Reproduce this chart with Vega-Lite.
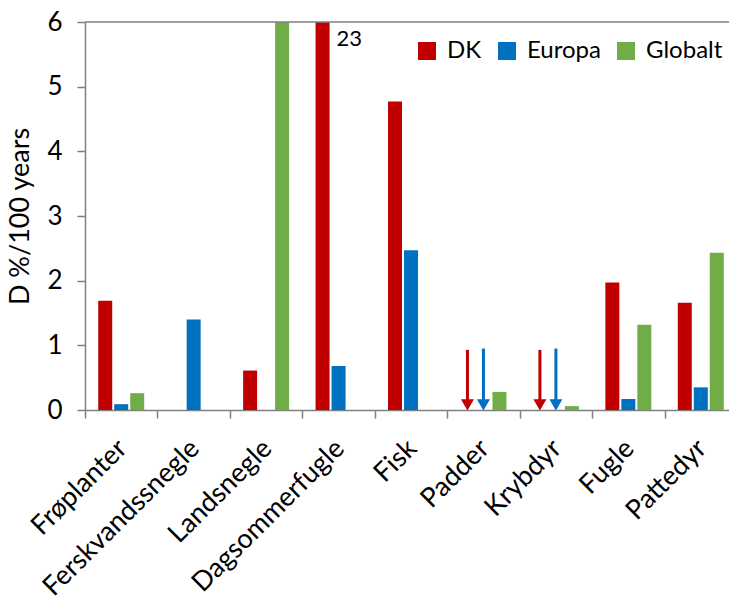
{
  "$schema": "https://vega.github.io/schema/vega-lite/v6.json",
  "width": 652,
  "height": 388,
  "autosize": {"type": "none"},
  "padding": {"left": 85, "top": 22, "right": 0, "bottom": 187},
  "background": "white",
  "config": {
    "view": {"stroke": null},
    "font": "Lato",
    "axis": {
      "domainColor": "#808080", "domainWidth": 1.5,
      "tickColor": "#808080", "tickWidth": 1.5, "tickSize": 8,
      "labelFont": "Lato", "labelColor": "#000000", "labelFontSize": 26,
      "titleFont": "Lato", "titleFontWeight": "normal", "titleColor": "#000000", "titleFontSize": 27,
      "grid": false
    },
    "axisY": {"tickCount": 6, "labelPadding": 15, "titlePadding": 12},
    "axisX": {"labelAngle": -45, "labelAlign": "right", "labelBaseline": "middle", "labelFontSize": 27, "labelPadding": 26, "labelOffset": 1, "labelLimit": 400, "tickBand": "extent"},
    "legend": {
      "orient": "none", "legendX": 330, "legendY": 17, "direction": "horizontal",
      "symbolType": "square", "symbolSize": 324, "symbolStrokeWidth": 0,
      "labelFont": "Lato", "labelFontSize": 24, "labelColor": "#000000",
      "labelOffset": 8, "columnPadding": 13, "padding": 0
    }
  },
  "datasets": {
    "bars": [
      {"category": "Frøplanter", "series": "DK", "value": 1.69},
      {"category": "Frøplanter", "series": "Europa", "value": 0.09},
      {"category": "Frøplanter", "series": "Globalt", "value": 0.26},
      {"category": "Ferskvandssnegle", "series": "Europa", "value": 1.40},
      {"category": "Landsnegle", "series": "DK", "value": 0.61},
      {"category": "Landsnegle", "series": "Globalt", "value": 6},
      {"category": "Dagsommerfugle", "series": "DK", "value": 23},
      {"category": "Dagsommerfugle", "series": "Europa", "value": 0.68},
      {"category": "Fisk", "series": "DK", "value": 4.77},
      {"category": "Fisk", "series": "Europa", "value": 2.47},
      {"category": "Padder", "series": "Globalt", "value": 0.28},
      {"category": "Krybdyr", "series": "Globalt", "value": 0.06},
      {"category": "Fugle", "series": "DK", "value": 1.97},
      {"category": "Fugle", "series": "Europa", "value": 0.17},
      {"category": "Fugle", "series": "Globalt", "value": 1.32},
      {"category": "Pattedyr", "series": "DK", "value": 1.66},
      {"category": "Pattedyr", "series": "Europa", "value": 0.35},
      {"category": "Pattedyr", "series": "Globalt", "value": 2.43}
    ],
    "arrows": [
      {"category": "Padder", "series": "DK", "top": 0.93, "base": 0.12, "head": 0.08},
      {"category": "Padder", "series": "Europa", "top": 0.95, "base": 0.12, "head": 0.08},
      {"category": "Krybdyr", "series": "DK", "top": 0.93, "base": 0.12, "head": 0.08},
      {"category": "Krybdyr", "series": "Europa", "top": 0.95, "base": 0.12, "head": 0.08}
    ],
    "notes": [
      {"category": "Dagsommerfugle", "series": "DK", "value": 6, "label": "23"}
    ],
    "frame": [{"value": 6}]
  },
  "layer": [
    {
      "data": {"name": "bars"},
      "mark": {"type": "bar", "clip": true},
      "encoding": {
        "x": {"field": "category", "type": "nominal", "title": null,
              "sort": ["Frøplanter", "Ferskvandssnegle", "Landsnegle", "Dagsommerfugle", "Fisk", "Padder", "Krybdyr", "Fugle", "Pattedyr"],
              "scale": {"domain": ["Frøplanter", "Ferskvandssnegle", "Landsnegle", "Dagsommerfugle", "Fisk", "Padder", "Krybdyr", "Fugle", "Pattedyr"], "paddingInner": 0, "paddingOuter": 0}},
        "xOffset": {"field": "series", "type": "nominal",
                    "scale": {"domain": ["DK", "Europa", "Globalt"], "paddingInner": 0.125, "paddingOuter": 0.828}},
        "y": {"field": "value", "type": "quantitative", "title": "D %/100 years",
              "scale": {"domain": [0, 6], "nice": false}},
        "color": {"field": "series", "type": "nominal", "title": null,
                  "scale": {"domain": ["DK", "Europa", "Globalt"], "range": ["#C00000", "#0070C0", "#70AD47"]}}
      }
    },
    {
      "data": {"name": "arrows"},
      "mark": {"type": "rule", "strokeWidth": 3},
      "encoding": {
        "x": {"field": "category", "type": "nominal", "title": null,
              "sort": ["Frøplanter", "Ferskvandssnegle", "Landsnegle", "Dagsommerfugle", "Fisk", "Padder", "Krybdyr", "Fugle", "Pattedyr"]},
        "xOffset": {"field": "series", "type": "nominal"},
        "y": {"field": "top", "type": "quantitative", "title": "D %/100 years"},
        "y2": {"field": "base"},
        "color": {"field": "series", "type": "nominal", "title": null}
      }
    },
    {
      "data": {"name": "arrows"},
      "mark": {"type": "point", "shape": "triangle-down", "filled": true, "size": 170, "opacity": 1},
      "encoding": {
        "x": {"field": "category", "type": "nominal", "title": null,
              "sort": ["Frøplanter", "Ferskvandssnegle", "Landsnegle", "Dagsommerfugle", "Fisk", "Padder", "Krybdyr", "Fugle", "Pattedyr"]},
        "xOffset": {"field": "series", "type": "nominal"},
        "y": {"field": "head", "type": "quantitative", "title": "D %/100 years"},
        "color": {"field": "series", "type": "nominal", "title": null}
      }
    },
    {
      "data": {"name": "notes"},
      "mark": {"type": "text", "align": "left", "baseline": "alphabetic", "dx": 14, "dy": 24, "fontSize": 22, "font": "Lato", "color": "#000000"},
      "encoding": {
        "x": {"field": "category", "type": "nominal", "title": null,
              "sort": ["Frøplanter", "Ferskvandssnegle", "Landsnegle", "Dagsommerfugle", "Fisk", "Padder", "Krybdyr", "Fugle", "Pattedyr"]},
        "xOffset": {"field": "series", "type": "nominal"},
        "y": {"field": "value", "type": "quantitative", "title": "D %/100 years"},
        "text": {"field": "label"}
      }
    },
    {
      "data": {"name": "frame"},
      "mark": {"type": "rule", "color": "#808080", "strokeWidth": 1.5},
      "encoding": {
        "y": {"field": "value", "type": "quantitative", "title": "D %/100 years"}
      }
    }
  ]
}
